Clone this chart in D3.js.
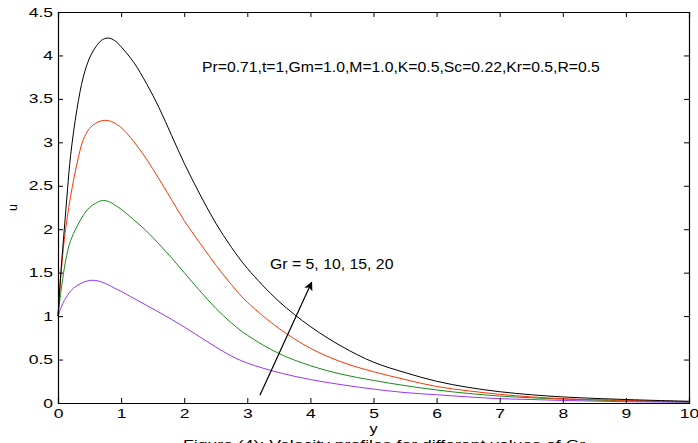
<!DOCTYPE html>
<html>
<head>
<meta charset="utf-8">
<script src="https://cdn.jsdelivr.net/npm/d3@7"></script>
<style>
  body { margin: 0; background: #fff; }
  svg { display: block; font-family: "Liberation Sans", Arial, sans-serif; }
</style>
</head>
<body>
<div id="chart"></div>
<script>
// Velocity profiles for different values of Gr

// y positions where the profiles were read
const yGrid = [0, 0.05, 0.1, 0.15, 0.2, 0.3, 0.4, 0.5, 0.6, 0.7, 0.8, 0.9, 1.0, 1.2, 1.4, 1.6, 1.8, 2.0,
    2.25, 2.5, 2.75, 3.0, 3.5, 4.0, 4.5, 5.0, 5.5, 6.0, 6.5, 7.0, 7.5, 8.0, 9.0, 10.0];

// u values, one list per Gr
const uGr5 = [1.0, 1.1, 1.18, 1.24, 1.29, 1.35, 1.39, 1.41, 1.41, 1.39, 1.36, 1.32, 1.285, 1.205, 1.125, 1.045, 0.962, 0.875,
    0.76, 0.645, 0.54, 0.46, 0.35, 0.27, 0.21, 0.16, 0.12, 0.095, 0.07, 0.05, 0.04, 0.03, 0.015, 0.008];
const uGr10 = [1.0, 1.3, 1.55, 1.74, 1.87, 2.03, 2.16, 2.25, 2.3, 2.33, 2.32, 2.28, 2.23, 2.11, 1.98, 1.83, 1.67, 1.5,
    1.29, 1.09, 0.92, 0.78, 0.57, 0.43, 0.33, 0.26, 0.2, 0.15, 0.11, 0.08, 0.06, 0.045, 0.025, 0.012];
const uGr15 = [1.0, 1.5, 1.88, 2.15, 2.38, 2.75, 3.03, 3.16, 3.22, 3.25, 3.25, 3.22, 3.17, 3.01, 2.81, 2.58, 2.34, 2.1,
    1.84, 1.59, 1.36, 1.16, 0.86, 0.63, 0.47, 0.36, 0.27, 0.19, 0.14, 0.1, 0.07, 0.05, 0.03, 0.015];
const uGr20 = [1.0, 1.55, 2.0, 2.45, 2.85, 3.38, 3.75, 3.97, 4.1, 4.18, 4.2, 4.17, 4.1, 3.92, 3.68, 3.4, 3.08, 2.76,
    2.4, 2.07, 1.79, 1.55, 1.17, 0.88, 0.65, 0.47, 0.35, 0.25, 0.18, 0.13, 0.095, 0.07, 0.04, 0.02];

const seriesNames = ['Gr=5', 'Gr=10', 'Gr=15', 'Gr=20'];
const seriesValues = [uGr5, uGr10, uGr15, uGr20];
const seriesColors = ['#9933ff', '#1a8c1a', '#ff3300', '#000000'];

const xTicks = [0, 1, 2, 3, 4, 5, 6, 7, 8, 9, 10];
const yTicks = [0, 0.5, 1, 1.5, 2, 2.5, 3, 3.5, 4, 4.5];

// arrow from (y, u) tail to head
const arrowPoints = [[3.2, 0.09], [4.02, 1.39]];

const paramText = 'Pr=0.71,t=1,Gm=1.0,M=1.0,K=0.5,Sc=0.22,Kr=0.5,R=0.5';
const arrowText = 'Gr = 5, 10, 15, 20';
const captionText = 'Figure (4): Velocity profiles for different values of Gr';

// the picture is a bit wider than tall, so text is stretched sideways
const stretch = 1.4;

// text placed at (x, y) and stretched horizontally by sx
function wideText(parent, x, y, sx, size, str, anchor) {
    return parent.append('text')
        .attr('transform', `translate(${x},${y}) scale(${sx},1)`)
        .attr('text-anchor', anchor || 'start')
        .style('font-size', size + 'px')
        .attr('fill', '#000')
        .text(str);
}

function drawChart() {
    const totalW = 698, totalH = 443;
    const margin = {top: 12, right: 9, bottom: 40, left: 58};
    const width = totalW - margin.left - margin.right;
    const height = totalH - margin.top - margin.bottom;

    const svg = d3.select('#chart').append('svg')
        .attr('width', totalW)
        .attr('height', totalH);

    const g = svg.append('g')
        .attr('transform', `translate(${margin.left},${margin.top})`);

    const x = d3.scaleLinear().domain([0, 10]).range([0, width]);
    const y = d3.scaleLinear().domain([0, 4.5]).range([height, 0]);

    // curves
    const line = d3.line()
        .x((d, i) => x(yGrid[i]))
        .y(d => y(d))
        .curve(d3.curveCatmullRom.alpha(0.5));

    seriesValues.forEach((vals, i) => {
        g.append('path')
            .attr('class', 'profile')
            .attr('d', line(vals))
            .attr('fill', 'none')
            .attr('stroke', seriesColors[i])
            .attr('stroke-width', 1);
    });

    // axes with inward ticks, mirrored on top and right
    const tickLen = 5;
    const bottomAxis = d3.axisBottom(x).tickValues(xTicks).tickSize(-tickLen).tickPadding(6).tickFormat(d3.format('d'));
    const topAxis = d3.axisTop(x).tickValues(xTicks).tickSize(-tickLen).tickFormat('');
    const leftAxis = d3.axisLeft(y).tickValues(yTicks).tickSize(-tickLen).tickPadding(5).tickFormat(d => d);
    const rightAxis = d3.axisRight(y).tickValues(yTicks).tickSize(-tickLen).tickFormat('');

    const axes = [
        g.append('g').attr('transform', `translate(0,${height})`).call(bottomAxis),
        g.append('g').call(topAxis),
        g.append('g').call(leftAxis),
        g.append('g').attr('transform', `translate(${width},0)`).call(rightAxis)
    ];
    axes.forEach(a => {
        a.select('.domain').attr('stroke', '#000').attr('stroke-width', 1.2);
        a.selectAll('.tick line').attr('stroke', '#000');
        a.selectAll('.tick text')
            .attr('fill', '#000')
            .style('font-size', '12.5px')
            .attr('font-family', null)
            .attr('font-size', null);
    });
    // stretch tick labels like the rest of the figure text
    axes[0].selectAll('.tick text').attr('transform', `scale(${stretch},1)`);
    axes[2].selectAll('.tick text')
        .attr('x', -5 / stretch)
        .attr('transform', `scale(${stretch},1)`);

    // axis labels
    wideText(svg, margin.left + x(5), 433, 1.3, 12.5, 'y', 'middle');

    svg.append('text')
        .attr('transform', `translate(17,${margin.top + y(2.25)}) rotate(-90)`)
        .attr('text-anchor', 'middle')
        .style('font-size', '12.5px')
        .text('u');

    // caption (cut off at the bottom of the picture, as in the original)
    wideText(svg, 183, 449, stretch, 12.6, captionText, 'start');

    // parameter text
    wideText(svg, 202, 72, 1.05, 15, paramText, 'start');

    // arrow and its label
    svg.append('defs').append('marker')
        .attr('id', 'arrowhead')
        .attr('viewBox', '0 0 10 10')
        .attr('refX', 9).attr('refY', 5)
        .attr('markerWidth', 9).attr('markerHeight', 9)
        .attr('markerUnits', 'userSpaceOnUse')
        .attr('orient', 'auto')
        .append('path')
        .attr('d', 'M0,0 L10,5 L0,10 L2.5,5 Z')
        .attr('fill', '#000');

    g.append('line')
        .attr('x1', x(arrowPoints[0][0])).attr('y1', y(arrowPoints[0][1]))
        .attr('x2', x(arrowPoints[1][0])).attr('y2', y(arrowPoints[1][1]))
        .attr('stroke', '#000')
        .attr('stroke-width', 1.2)
        .attr('marker-end', 'url(#arrowhead)');

    wideText(svg, 270, 269, 1.13, 14, arrowText, 'start');
}

drawChart();
</script>
</body>
</html>
